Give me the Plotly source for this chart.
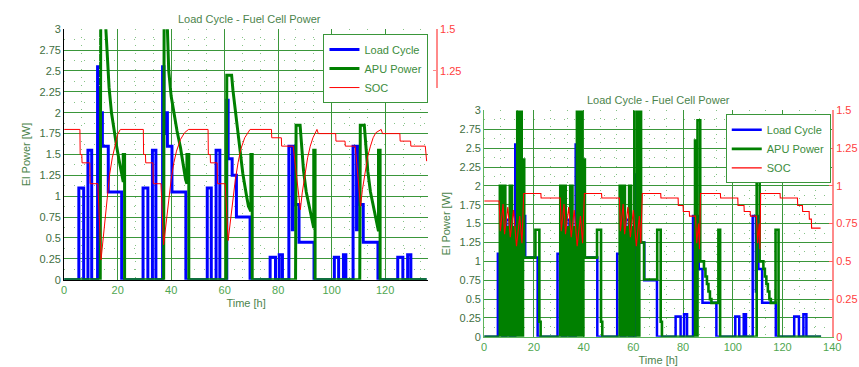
import plotly.graph_objects as go

W, H = 859, 367

# ---------------- data ----------------
# Load cycle (step function, value holds until next time) [h], [W]
load_t = [0, 5.5, 7.3, 8.9, 10.3, 12.5, 13.0, 13.6, 14.0, 14.3, 16.5, 21.5,
          29.5, 31.3, 33.0, 34.3, 36.8, 37.3, 37.8, 38.3, 38.6, 40.3, 45.5,
          53.5, 55.0, 56.8, 58.2, 60.8, 61.3, 62.8, 64.4, 69.5,
          77.0, 79.0, 80.4, 81.6, 84.0, 85.3, 85.6, 86.3, 87.8, 93.4,
          101.0, 102.6, 104.4, 105.3, 108.0, 109.3, 109.6, 110.3, 111.8, 117.3,
          124.7, 126.6, 128.4, 129.6, 135.5]
load_v = [0, 1.1, 0, 1.55, 0, 2.55, 2.0, 1.75, 2.0, 1.6, 1.05, 0,
          1.1, 0, 1.55, 0, 2.55, 2.0, 1.75, 2.0, 1.6, 1.05, 0,
          1.1, 0, 1.55, 0, 2.15, 1.45, 1.25, 0.75, 0,
          0.27, 0, 0.3, 0, 1.6, 0.6, 1.6, 0.9, 0.45, 0,
          0.27, 0, 0.3, 0, 1.6, 0.6, 1.6, 0.9, 0.45, 0,
          0.27, 0, 0.3, 0, 0]

# Left chart: APU power (time, W)
apu1_pts = [(0, 0), (13.5, 0), (13.7, 3.6), (14.6, 3.6), (15.6, 3.0), (16.0, 2.7), (16.8, 2.3),
            (17.7, 2.0), (18.6, 1.78), (19.6, 1.6), (20.5, 1.44), (21.4, 1.3), (22.1, 1.17),
            (22.1, 1.5), (22.6, 1.5), (22.6, 0),
            (37.2, 0), (37.4, 3.6), (38.0, 3.6), (38.6, 3.0), (39.1, 2.5), (40.0, 2.2), (41.0, 2.0),
            (42.2, 1.78), (43.5, 1.58), (44.5, 1.35), (45.4, 1.2), (45.9, 1.15),
            (45.9, 1.5), (46.6, 1.5), (46.6, 0),
            (60.6, 0), (60.8, 2.45), (62.6, 2.45), (63.1, 2.27), (64.5, 1.89), (65.7, 1.58),
            (66.8, 1.27), (68.2, 1.0), (68.9, 0.88), (69.8, 0.82),
            (69.8, 1.5), (70.3, 1.5), (70.3, 0),
            (86.5, 0), (86.7, 1.85), (88.2, 1.85), (88.8, 1.6), (89.5, 1.3), (90.5, 1.05),
            (91.5, 0.88), (92.5, 0.72), (93.3, 0.62), (93.3, 1.55), (93.8, 1.55), (93.8, 0),
            (110.5, 0), (110.7, 1.85), (112.2, 1.85), (112.8, 1.6), (113.5, 1.3), (114.5, 1.05),
            (115.5, 0.88), (116.6, 0.72), (117.5, 0.58), (117.5, 1.55), (118.1, 1.55), (118.1, 0),
            (135.5, 0)]

# Left chart: state of charge (time, SOC)
soc1_pts = [(0, 0.9), (5.9, 0.9), (6.0, 0.75), (6.6, 0.75), (6.7, 0.7), (9.6, 0.7), (9.7, 0.575),
            (12.6, 0.575), (13.8, 0.12), (14.3, 0.2), (15.0, 0.33), (16.0, 0.5), (17.0, 0.63),
            (18.0, 0.73), (19.0, 0.81), (20.0, 0.87), (21.0, 0.9),
            (29.6, 0.9), (29.7, 0.75), (30.4, 0.75), (30.5, 0.7), (33.2, 0.7), (33.3, 0.575),
            (36.2, 0.575), (37.2, 0.21), (38.0, 0.33), (39.0, 0.47), (40.0, 0.6), (41.0, 0.7),
            (42.0, 0.77), (43.5, 0.84), (45.0, 0.88), (46.5, 0.9),
            (53.8, 0.9), (53.9, 0.75), (54.6, 0.75), (54.7, 0.7), (57.2, 0.7), (57.3, 0.575),
            (60.2, 0.575), (61.3, 0.235), (62.0, 0.33), (63.0, 0.47), (64.0, 0.6), (65.0, 0.7),
            (66.0, 0.78), (67.5, 0.85), (69.5, 0.9),
            (77.5, 0.9), (77.6, 0.85), (81.2, 0.85), (81.3, 0.8), (85.6, 0.8), (88.3, 0.42),
            (89.0, 0.52), (90.0, 0.64), (91.0, 0.73), (92.0, 0.8), (93.0, 0.85), (94.5, 0.9),
            (95.0, 0.875), (101.5, 0.875), (101.6, 0.83), (105.0, 0.83), (105.1, 0.8), (108.8, 0.8),
            (110.8, 0.44), (111.5, 0.54), (112.5, 0.65), (113.5, 0.74), (114.5, 0.8), (115.5, 0.85),
            (116.5, 0.88), (118.5, 0.9), (119.0, 0.875), (125.5, 0.875), (125.6, 0.83), (129.5, 0.83),
            (129.6, 0.8), (135.0, 0.8), (135.5, 0.71)]

# Right chart: APU power (step function, value holds until next time)
apu2_t = [0, 6.3, 6.9, 7.9, 8.5, 9.3, 9.8, 10.3, 11.2, 12.0, 12.5, 13.3, 14.0, 14.6, 15.1,
          15.6, 16.1, 20.6, 22.2, 22.7,
          30.6, 31.2, 32.2, 32.8, 33.6, 34.1, 34.6, 35.5, 36.2, 36.7, 37.3, 38.1, 38.9, 39.4,
          39.9, 40.5, 45.4, 47.0, 47.5,
          54.5, 55.1, 56.0, 56.6, 57.3, 57.8, 58.3, 59.1, 59.6, 60.0, 60.4, 61.5, 62.4, 63.1, 64.3,
          69.6, 71.0, 71.5,
          84.8, 85.4, 85.8, 86.9, 88.4, 89.0, 89.6, 90.2, 90.8, 91.4, 94.2, 94.9,
          109.6, 110.8, 112.3, 112.9, 113.5, 114.1, 114.7, 115.3, 117.2, 118.4, 135.5]
apu2_v = [0, 2.0, 0, 2.0, 0, 1.45, 0, 2.0, 0, 1.45, 0, 3.3, 0, 3.3, 0,
          2.35, 1.05, 1.42, 0.2, 0,
          2.0, 0, 2.0, 0, 1.45, 0, 2.0, 0, 1.45, 0, 3.3, 0, 3.3, 0,
          2.35, 1.05, 1.42, 0.2, 0,
          2.0, 0, 2.0, 0, 1.45, 0, 2.0, 0, 1.45, 0, 3.3, 0, 3.3, 1.25, 0.76,
          1.42, 0.2, 0,
          2.6, 0, 2.87, 1.0, 0.9, 0.8, 0.7, 0.6, 0.5, 0.45, 1.42, 0,
          2.4, 1.0, 0.9, 0.8, 0.7, 0.6, 0.5, 0.45, 1.42, 0, 0]

# Right chart: state of charge
soc2_pts = [(0, 0.9), (6.0, 0.9), (6.5, 0.7), (7.6, 0.88), (8.2, 0.68), (9.5, 0.86), (10.5, 0.66),
            (11.8, 0.84), (13.0, 0.6), (14.3, 0.8), (15.2, 0.62), (15.9, 0.95), (22.8, 0.95),
            (22.9, 0.92), (30.6, 0.92),
            (31.0, 0.7), (32.1, 0.88), (32.7, 0.68), (34.0, 0.86), (35.0, 0.66), (36.2, 0.84),
            (37.4, 0.6), (38.7, 0.8), (39.6, 0.62), (40.3, 0.95), (47.2, 0.95), (47.3, 0.92),
            (54.4, 0.92),
            (54.8, 0.7), (55.9, 0.88), (56.5, 0.68), (57.8, 0.86), (58.8, 0.66), (60.0, 0.84),
            (61.2, 0.6), (62.4, 0.8), (63.0, 0.62), (63.6, 0.95), (71.0, 0.95), (71.1, 0.92),
            (78.0, 0.92), (78.1, 0.87), (80.0, 0.87), (80.1, 0.83), (82.5, 0.83), (82.6, 0.8),
            (85.0, 0.8), (85.5, 0.62), (86.2, 0.75), (86.6, 0.58), (87.0, 0.95), (95.0, 0.95),
            (95.1, 0.92), (102.0, 0.92), (102.1, 0.87), (104.5, 0.87), (104.6, 0.83), (107.0, 0.83),
            (107.1, 0.8), (109.5, 0.8), (110.0, 0.62), (110.6, 0.75), (110.9, 0.58), (111.2, 0.95),
            (119.0, 0.95), (119.1, 0.92), (126.0, 0.92), (126.1, 0.87), (128.0, 0.87), (128.1, 0.83),
            (130.7, 0.83), (130.8, 0.78), (131.6, 0.78), (131.7, 0.72), (135.3, 0.72)]

titles = ["Load Cycle - Fuel Cell Power", "Load Cycle - Fuel Cell Power"]
x_title = "Time [h]"
y_title = "El Power [W]"
names = ["Load Cycle", "APU Power", "SOC"]

apu1_t = [p[0] for p in apu1_pts]; apu1_v = [p[1] for p in apu1_pts]
soc1_t = [p[0] for p in soc1_pts]; soc1_v = [p[1] for p in soc1_pts]
soc2_t = [p[0] for p in soc2_pts]; soc2_v = [p[1] for p in soc2_pts]

# ---------------- styling ----------------
FONT = "Liberation Sans, Arial, sans-serif"
BLUE, GREEN, RED = "#0000ff", "#008000", "#ff0000"
GRID = "#3a963a"
MINOR = "#86c386"
TXT_X = "#4fa64f"
TXT_Y = "#3f6f3f"
TITLE_C = "#4c844c"


def px_x(p):
    return p / W


def px_y(p):
    return (H - p) / H


fig = go.Figure()

# left chart
fig.add_trace(go.Scatter(x=load_t, y=load_v, mode="lines", line=dict(color=BLUE, width=3, shape="hv"),
                         name=names[0], xaxis="x", yaxis="y", legend="legend"))
fig.add_trace(go.Scatter(x=apu1_t, y=apu1_v, mode="lines", line=dict(color=GREEN, width=3),
                         name=names[1], xaxis="x", yaxis="y", legend="legend"))
fig.add_trace(go.Scatter(x=soc1_t, y=soc1_v, mode="lines", line=dict(color=RED, width=1),
                         name=names[2], xaxis="x", yaxis="y2", legend="legend"))
fig.add_trace(go.Scatter(x=[None], y=[None], mode="lines", showlegend=False, hoverinfo="skip",
                         xaxis="x", yaxis="y5"))
# right chart
fig.add_trace(go.Scatter(x=load_t, y=load_v, mode="lines", line=dict(color=BLUE, width=2.5, shape="hv"),
                         name=names[0], xaxis="x2", yaxis="y3", legend="legend2"))
fig.add_trace(go.Scatter(x=apu2_t, y=apu2_v, mode="lines", line=dict(color=GREEN, width=2.6, shape="hv"),
                         name=names[1], xaxis="x2", yaxis="y3", legend="legend2"))
fig.add_trace(go.Scatter(x=soc2_t, y=soc2_v, mode="lines", line=dict(color=RED, width=1.1),
                         name=names[2], xaxis="x2", yaxis="y4", legend="legend2"))

tickfont_x = dict(family=FONT, size=11, color=TXT_X)
tickfont_y = dict(family=FONT, size=11, color=TXT_Y)
titlefont = dict(family=FONT, size=11, color=TITLE_C)
minor_x = dict(tick0=0, dtick=20 / 3, showgrid=True, gridcolor=MINOR, griddash="1px,7px", gridwidth=1)
minor_y = dict(tick0=0, dtick=0.125, showgrid=True, gridcolor=MINOR, griddash="1px,9px", gridwidth=1)

fig.update_layout(
    width=W, height=H, margin=dict(l=0, r=0, t=0, b=0),
    paper_bgcolor="white", plot_bgcolor="rgba(0,0,0,0)",
    font=dict(family=FONT, size=11, color=TITLE_C),
    xaxis=dict(domain=[px_x(62), px_x(431)], range=[0, 136], anchor="y", tickmode="linear", tick0=0,
               dtick=20, showgrid=True, gridcolor=GRID, gridwidth=1, zeroline=False,
               showline=True, linecolor="black", linewidth=1, ticks="", tickfont=tickfont_x,
               minor=minor_x, title=dict(text=x_title, font=titlefont, standoff=4)),
    yaxis=dict(domain=[px_y(283), px_y(24)], range=[0, 3], anchor="x", tickmode="linear", tick0=0,
               dtick=0.25, showgrid=True, gridcolor=GRID, gridwidth=1, zeroline=False,
               showline=True, linecolor="black", linewidth=1, ticks="", tickfont=tickfont_y,
               minor=minor_y, title=dict(text=y_title, font=titlefont, standoff=6)),
    yaxis2=dict(overlaying="y", anchor="x", side="right", range=[0, 1.5], visible=False),
    yaxis5=dict(domain=[px_y(85), px_y(24)], range=[1.1453, 1.5], anchor="free", position=px_x(440),
                side="right", tickmode="array", tickvals=[1.25, 1.5], ticktext=["1.25", "1.5"],
                showgrid=False, zeroline=False, showline=True, linecolor="#ff8a8a", linewidth=2,
                ticks="inside", ticklen=3, tickcolor="#ff8a8a",
                tickfont=dict(family=FONT, size=11, color="#ff4040")),
    xaxis2=dict(domain=[px_x(488), px_x(841)], range=[0, 140], anchor="y3", tickmode="linear", tick0=0,
                dtick=20, showgrid=True, gridcolor=GRID, gridwidth=1, zeroline=False,
                showline=True, linecolor="#5cb35c", linewidth=1, ticks="", tickfont=tickfont_x,
                minor=minor_x, title=dict(text=x_title, font=titlefont, standoff=4)),
    yaxis3=dict(domain=[px_y(342), px_y(108)], range=[0, 3], anchor="x2", tickmode="linear", tick0=0,
                dtick=0.25, showgrid=True, gridcolor=GRID, gridwidth=1, zeroline=False,
                showline=True, linecolor="#5cb35c", linewidth=1, ticks="", tickfont=tickfont_y,
                minor=minor_y, title=dict(text=y_title, font=titlefont, standoff=6)),
    yaxis4=dict(overlaying="y3", anchor="x2", side="right", range=[0, 1.5], tickmode="linear", tick0=0,
                dtick=0.25, showgrid=False, zeroline=False, showline=True, linecolor="#ff8a8a",
                linewidth=1.5, ticks="inside", ticklen=4, tickcolor="#ff6060",
                tickfont=dict(family=FONT, size=11, color="#ff4040")),
    legend=dict(x=px_x(325), y=px_y(29), xanchor="left", yanchor="top", bgcolor="white",
                bordercolor=GRID, borderwidth=1, font=dict(family=FONT, size=11, color="#3c8c3c"),
                tracegroupgap=0, itemwidth=30),
    legend2=dict(x=px_x(733), y=px_y(112), xanchor="left", yanchor="top", bgcolor="white",
                 bordercolor=GRID, borderwidth=1, font=dict(family=FONT, size=11, color="#3c8c3c"),
                 tracegroupgap=0, itemwidth=30),
    annotations=[
        dict(text=titles[0], x=px_x(250), y=px_y(13), xref="paper", yref="paper", showarrow=False,
             xanchor="center", yanchor="middle", font=dict(family=FONT, size=11, color=TITLE_C)),
        dict(text=titles[1], x=px_x(665), y=px_y(97), xref="paper", yref="paper", showarrow=False,
             xanchor="center", yanchor="middle", font=dict(family=FONT, size=11, color=TITLE_C)),
    ],
    showlegend=True,
)

fig.write_html("out.html")
